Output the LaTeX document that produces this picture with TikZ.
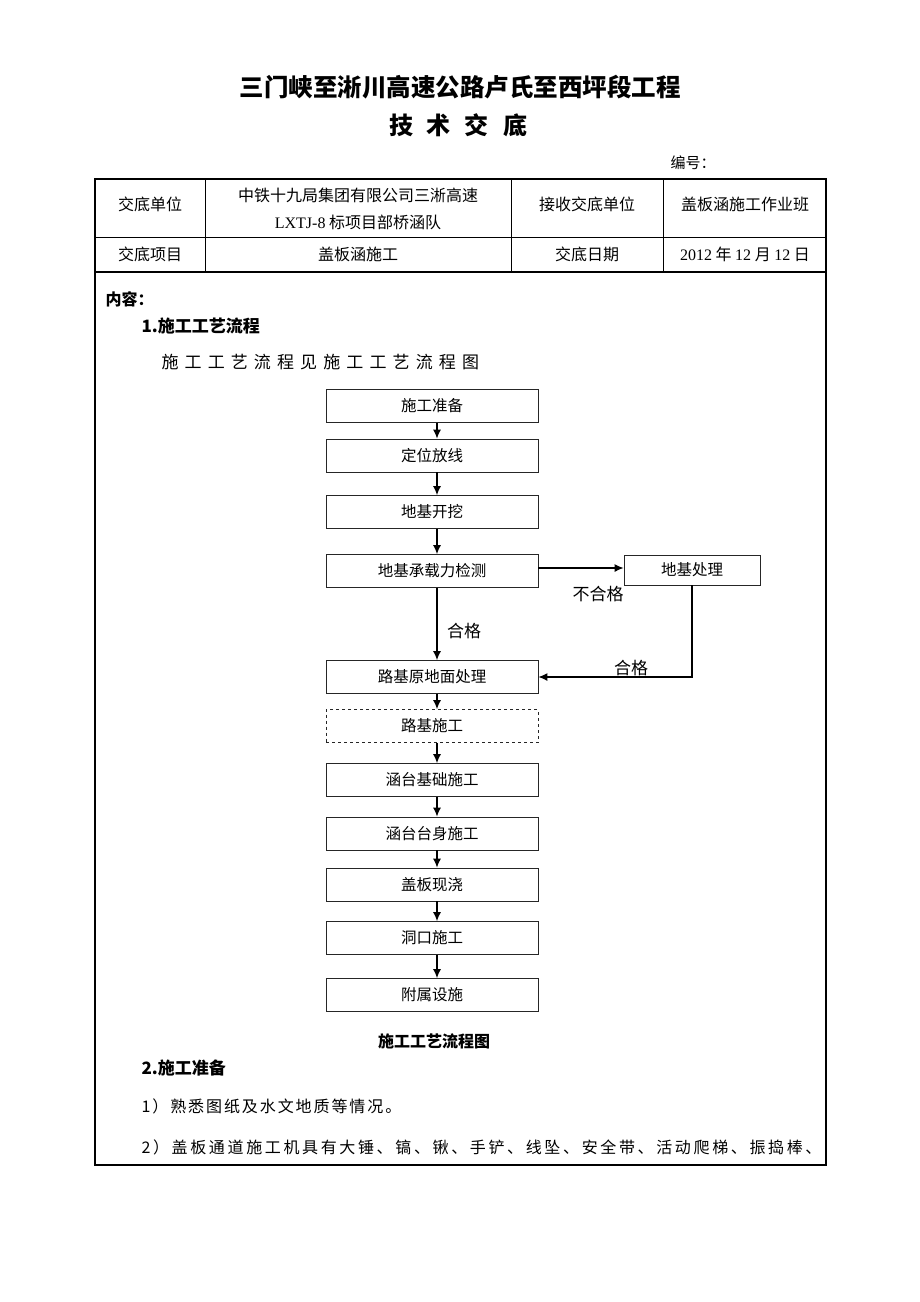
\documentclass[tikz,border=0pt]{standalone}
\usepackage{fontspec}
\setmainfont{Noto Sans CJK SC}
\newfontfamily\latin{Liberation Serif}
\usetikzlibrary{arrows.meta,positioning}

\newcommand{\fs}[1]{\fontsize{#1}{#1}\selectfont}

\tikzset{
  flowbox/.style={draw=black!85, line width=0.8pt, minimum width=212pt,
    minimum height=33pt, inner sep=0pt, font=\fs{15.5}},
  flowarrow/.style={black, line width=1.2pt, -{Latex[length=9pt,width=8pt]}},
  cell/.style={font=\fs{16}},
}

\begin{document}
\begin{tikzpicture}[x=1pt,y=-1pt]
    \useasboundingbox (0,0) rectangle (920,1302);

    % heading
    \node [font=\fs{24.5}\bfseries] (title) at (460,87) {三门峡至淅川高速公路卢氏至西坪段工程};
    \node [font=\fs{24}\bfseries] (subtitle) at (458,125) {技\hspace{14pt}术\hspace{14pt}交\hspace{14pt}底};
    \node [font=\fs{15}, anchor=west] (number) at (667,163) {编号：};

    % frame and table
    \draw [black, line width=1.6pt] (95,179) rectangle (826,1165);
    \draw [black, line width=0.8pt] (95,237) -- (826,237);
    \draw [black, line width=1.6pt] (95,272) -- (826,272);
    \draw [black, line width=0.8pt] (205,179) -- (205,272);
    \draw [black, line width=0.8pt] (511,179) -- (511,272);
    \draw [black, line width=0.8pt] (663,179) -- (663,272);

    \node [cell] (unit) at (150,204) {交底单位};
    \node [cell] (unitA) at (358,195) {中铁十九局集团有限公司三淅高速};
    \node [cell] (unitB) at (358,222) {{\latin LXTJ-8} 标项目部桥涵队};
    \node [cell] (recv) at (587,204) {接收交底单位};
    \node [cell] (team) at (745,204) {盖板涵施工作业班};
    \node [cell] (item) at (150,254) {交底项目};
    \node [cell] (itemA) at (358,254) {盖板涵施工};
    \node [cell] (date) at (587,254) {交底日期};
    \node [cell] (dateA) at (745,254) {{\latin 2012} 年 {\latin 12} 月 {\latin 12} 日};

    % content
    \node [font=\fs{16}\bfseries, anchor=west] (content) at (102,299) {内容：};
    \node [font=\fs{17}\bfseries, anchor=west] (sec1) at (138,326) {1.施工工艺流程};
    \node [font=\fs{17}\addfontfeature{LetterSpace=36}, anchor=west] (see) at (158,362) {施工工艺流程见施工工艺流程图};

    % flow chart
    \node [flowbox] (prep) at (432,406) {施工准备};
    \node [flowbox] (loc) at (432,455.5) {定位放线};
    \node [flowbox] (dig) at (432,512) {地基开挖};
    \node [flowbox] (check) at (432,571) {地基承载力检测};
    \node [flowbox, minimum width=136pt, minimum height=30pt] (treat) at (692,570) {地基处理};
    \node [flowbox] (base) at (432,677) {路基原地面处理};
    \node [flowbox, dashed] (road) at (432,726) {路基施工};
    \node [flowbox] (found) at (432,780) {涵台基础施工};
    \node [flowbox] (body) at (432,833.5) {涵台台身施工};
    \node [flowbox] (slab) at (432,884.5) {盖板现浇};
    \node [flowbox] (portal) at (432,938) {洞口施工};
    \node [flowbox] (attach) at (432,995) {附属设施};

    \foreach \a/\b in {prep/loc, loc/dig, dig/check, check/base, base/road,
        road/found, found/body, body/slab, slab/portal, portal/attach}
        \draw [flowarrow] ([xshift=5pt]\a.south) -- ([xshift=5pt]\b.north);

    \coordinate (fail) at ([yshift=3pt]check.east);
    \draw [flowarrow] (fail) -- (fail -| treat.west);
    \draw [flowarrow] (treat.south) |- (base.east);

    \node [font=\fs{17}] (failtext) at (598,594) {不合格};
    \node [font=\fs{17}] (passA) at (464,631) {合格};
    \node [font=\fs{17}] (passB) at (631,668) {合格};

    % below the chart
    \node [font=\fs{16}\bfseries] (caption) at (434,1041) {施工工艺流程图};
    \node [font=\fs{17}\bfseries, anchor=west] (sec2) at (138,1068) {2.施工准备};
    \node [font=\fs{16}\addfontfeature{LetterSpace=12}, anchor=west] (step1) at (138,1106) {1）熟悉图纸及水文地质等情况。};
    \node [font=\fs{16}\addfontfeature{LetterSpace=16.5}, anchor=west] (step2) at (138,1147) {2）盖板通道施工机具有大锤、镐、锹、手铲、线坠、安全带、活动爬梯、振捣棒、};
\end{tikzpicture}
\end{document}
